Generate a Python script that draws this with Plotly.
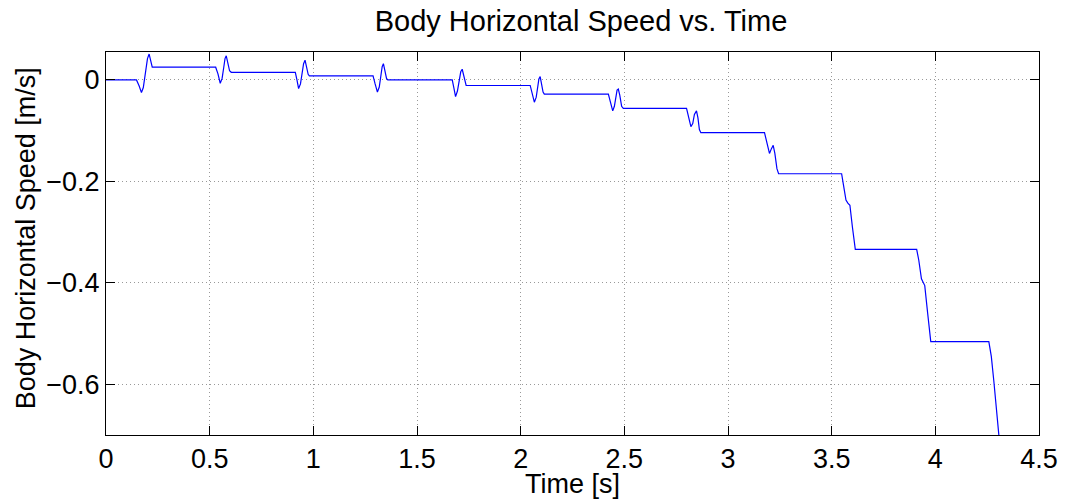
import plotly.graph_objects as go

# Time [s]
time_s = [
    0.000, 0.147, 0.160, 0.171, 0.180, 0.190, 0.200, 0.208, 0.215, 0.223,
    0.529, 0.540, 0.551, 0.560, 0.568, 0.574, 0.580, 0.587, 0.596, 0.604,
    0.913, 0.921, 0.929, 0.938, 0.946, 0.953, 0.960, 0.967, 0.975, 0.981,
    1.288, 1.298, 1.309, 1.318, 1.325, 1.332, 1.338, 1.345, 1.353, 1.359,
    1.670, 1.678, 1.686, 1.695, 1.703, 1.711, 1.718, 1.725, 1.732, 1.737,
    2.046, 2.056, 2.066, 2.075, 2.082, 2.088, 2.094, 2.101, 2.108, 2.114,
    2.423, 2.433, 2.444, 2.452, 2.459, 2.465, 2.471, 2.478, 2.487, 2.495,
    2.800, 2.810, 2.821, 2.830, 2.838, 2.848, 2.855, 2.862, 2.869,
    3.176, 3.186, 3.200, 3.209, 3.218, 3.226, 3.236, 3.244,
    3.548, 3.556, 3.569, 3.578, 3.588, 3.600, 3.614,
    3.910, 3.920, 3.933, 3.949, 3.963, 3.978,
    4.258, 4.270, 4.282, 4.295, 4.306, 4.320,
]

# Body horizontal speed [m/s]
speed = [
    0.000, 0.000, -0.012, -0.025, -0.015, 0.013, 0.042, 0.051, 0.038, 0.025,
    0.025, 0.012, -0.0066, 0.003, 0.025, 0.042, 0.0475, 0.036, 0.018, 0.015,
    0.015, 0.000, -0.017, -0.008, 0.014, 0.032, 0.039, 0.028, 0.011, 0.008,
    0.008, -0.008, -0.024, -0.014, 0.008, 0.026, 0.032, 0.020, 0.003, 0.000,
    0.000, -0.016, -0.033, -0.022, 0.000, 0.016, 0.021, 0.009, -0.008, -0.011,
    -0.011, -0.028, -0.044, -0.034, -0.014, 0.002, 0.0066, -0.006, -0.024, -0.028,
    -0.028, -0.044, -0.061, -0.052, -0.032, -0.020, -0.018, -0.030, -0.052, -0.056,
    -0.056, -0.072, -0.092, -0.086, -0.068, -0.061, -0.075, -0.098, -0.104,
    -0.104, -0.122, -0.145, -0.136, -0.129, -0.145, -0.175, -0.185,
    -0.185, -0.205, -0.237, -0.243, -0.247, -0.290, -0.334,
    -0.334, -0.355, -0.392, -0.4055, -0.460, -0.516,
    -0.516, -0.545, -0.593, -0.645, -0.700, -0.760,
]

x_ticks = [0, 0.5, 1, 1.5, 2, 2.5, 3, 3.5, 4, 4.5]
x_tick_labels = ["0", "0.5", "1", "1.5", "2", "2.5", "3", "3.5", "4", "4.5"]
y_ticks = [-0.6, -0.4, -0.2, 0]
y_tick_labels = ["\u22120.6", "\u22120.4", "\u22120.2", "0"]

FONT = "Liberation Sans, Arial, Helvetica, sans-serif"
FS = 27

fig = go.Figure()
fig.add_trace(go.Scatter(x=time_s, y=speed, mode="lines",
                         line=dict(color="#0000ff", width=1.2),
                         showlegend=False, hoverinfo="x+y"))

axis_common = dict(
    showline=True, linecolor="black", linewidth=1, mirror="ticks",
    ticks="inside", ticklen=9, tickwidth=1, tickcolor="black",
    showgrid=True, gridcolor="#999999", gridwidth=1, griddash="1px,3px",
    zeroline=False,
    tickfont=dict(family=FONT, size=FS, color="black"),
)

fig.update_layout(
    width=1070, height=500,
    margin=dict(l=106, r=28, t=52, b=65),
    paper_bgcolor="white", plot_bgcolor="white",
    font=dict(family=FONT, size=FS, color="black"),
    title=dict(text="Body Horizontal Speed vs. Time", x=581 / 1070, xref="container",
               xanchor="center", y=1 - 21 / 500, yref="container", yanchor="middle",
               font=dict(family=FONT, size=29, color="black")),
    xaxis=dict(range=[0, 4.5], tickvals=x_ticks, ticktext=x_tick_labels, **axis_common),
    yaxis=dict(range=[-0.7, 0.055], tickvals=y_ticks, ticktext=y_tick_labels, **axis_common),
    annotations=[
        dict(text="Time [s]", xref="paper", yref="paper", x=0.5, y=-0.128,
             xanchor="center", yanchor="middle", showarrow=False,
             font=dict(family=FONT, size=FS, color="black")),
        dict(text="Body Horizontal Speed [m/s]", xref="paper", yref="paper",
             x=-0.0855, y=0.514, xanchor="center", yanchor="middle", textangle=-90,
             showarrow=False, font=dict(family=FONT, size=FS, color="black")),
    ],
)

fig.write_html("out.html")
